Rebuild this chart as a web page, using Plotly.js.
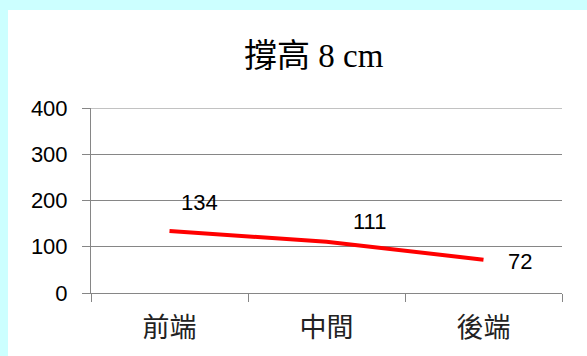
<!DOCTYPE html>
<html>
<head>
<meta charset="utf-8">
<script src="https://cdn.plot.ly/plotly-3.0.1.min.js"></script>
<style>
html,body{margin:0;padding:0;background:#CCFFFF;width:587px;height:356px;overflow:hidden;}
#chart{position:absolute;left:8px;top:10px;width:579px;height:346px;}
</style>
</head>
<body>
<div id="chart"></div>
<script>
const categories = ["前端", "中間", "後端"];
const values = [134, 111, 72];
const yTicks = [0, 100, 200, 300, 400];
const titleText = "撐高 8 cm";

const labelShifts = [[30, 29], [43, 20], [36, -2]];

const trace = {
  type: "scatter",
  mode: "lines",
  x: categories,
  y: values,
  line: {color: "#FF0000", width: 4},
  hoverinfo: "skip"
};

const annotations = categories.map((c, i) => ({
  x: c, y: values[i], xref: "x", yref: "y",
  text: String(values[i]), showarrow: false,
  xshift: labelShifts[i][0], yshift: labelShifts[i][1],
  font: {family: "Liberation Sans, Arial, sans-serif", size: 22, color: "#000"}
}));

const yMax = yTicks[yTicks.length - 1];

const layout = {
  width: 579, height: 346,
  paper_bgcolor: "#FFFFFF", plot_bgcolor: "#FFFFFF",
  margin: {l: 83, r: 25, t: 98, b: 63},
  showlegend: false,
  title: {
    text: titleText,
    font: {family: "Liberation Serif, Times New Roman, Noto Sans CJK TC, serif", size: 33, color: "#000"},
    x: 0.528, xanchor: "center", xref: "container",
    y: 0.87, yanchor: "middle", yref: "container"
  },
  xaxis: {
    type: "category",
    range: [-0.5, 2.5],
    tickson: "boundaries",
    ticks: "outside", ticklen: 8, tickcolor: "#868686", tickwidth: 1,
    showline: true, linecolor: "#868686", linewidth: 1,
    showgrid: false, zeroline: false,
    ticklabelstandoff: 11,
    tickfont: {family: "Noto Sans CJK TC, sans-serif", size: 27, color: "#222"}
  },
  yaxis: {
    range: [0, yMax],
    tickvals: yTicks,
    ticktext: yTicks.map(String),
    ticks: "outside", ticklen: 8, tickcolor: "#868686", tickwidth: 1,
    showline: true, linecolor: "#868686", linewidth: 1,
    showgrid: true, gridcolor: "#868686", gridwidth: 1,
    zeroline: false,
    ticklabelstandoff: 10,
    tickfont: {family: "Liberation Sans, Arial, sans-serif", size: 22, color: "#000"}
  },
  shapes: [{
    type: "line", xref: "paper", yref: "y",
    x0: 0, x1: 1, y0: yMax, y1: yMax,
    line: {color: "#868686", width: 1}, layer: "below"
  }],
  annotations: annotations
};

Plotly.newPlot("chart", [trace], layout, {staticPlot: true, displayModeBar: false});
</script>
</body>
</html>
